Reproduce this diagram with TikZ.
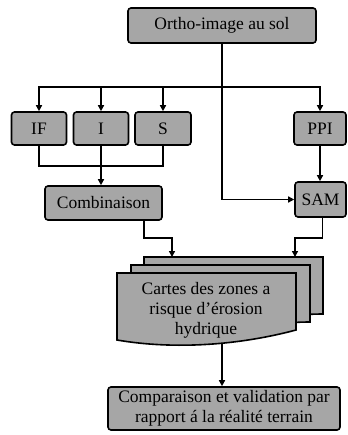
\documentclass[tikz,border=0pt]{standalone}
\usepackage{fontspec}
\setmainfont{Liberation Serif}
\usetikzlibrary{arrows.meta}
\definecolor{boxgray}{RGB}{166,166,166}
\begin{document}
\begin{tikzpicture}[x=1pt,y=-1pt,
	box/.style={draw=black,line width=1.6pt,fill=boxgray,rounded corners=3pt,inner sep=0pt,align=center,font=\fontsize{17.5}{20}\selectfont},
	page/.style={draw=black,line width=1.6pt,fill=boxgray},
	link/.style={line width=1.4pt,-{Triangle[length=6pt,width=6pt]}},
	line/.style={line width=1.4pt}]
	
	\useasboundingbox (0,0) rectangle (347,435);
	
	% boxes
	\node[box,minimum width=188pt,minimum height=35pt] (ortho) at (222,25.5) {Ortho-image au sol};
	\node[box,minimum width=55pt,minimum height=33pt] (IF) at (39,128.5) {IF};
	\node[box,minimum width=55pt,minimum height=33pt] (I) at (101,128.5) {I};
	\node[box,minimum width=56pt,minimum height=33pt] (S) at (163,128.5) {S};
	\node[box,minimum width=52pt,minimum height=33pt] (PPI) at (320,128.5) {PPI};
	\node[box,minimum width=117pt,minimum height=34pt] (comb) at (103.5,203) {Combinaison};
	\node[box,minimum width=51pt,minimum height=35pt] (sam) at (320.5,199.5) {SAM};
	\node[box,minimum width=232pt,minimum height=43pt] (comp) at (224,408.5) {Comparaison et validation par\\rapport á la réalité terrain};
	
	% stacked maps
	\draw[page](144,257)--(323,257)--(323,314) .. controls (267,314) and (202,334) .. (144,324)--cycle;
	\draw[page](131,265)--(310,265)--(310,322) .. controls (254,322) and (189,342) .. (131,332)--cycle;
	\draw[page](117,273)--(296,273)--(296,330) .. controls (240,345) and (175,350) .. (117,340)--cycle;
	\node[box,draw=none,fill=none] (cartes) at (206,310) {Cartes des zones a\\risque d’érosion\\hydrique};
	
	\coordinate (split) at (222,87);
	\coordinate (merge) at (101,166);
	\coordinate (in1) at (172,257);
	\coordinate (in2) at (295,257);
	\coordinate (docbot) at (222,343);
	
	% connectors
	\draw[line](ortho.south)--(split);
	\draw[link](split)-|(IF.north);
	\draw[link](split)-|(PPI.north);
	\draw[link](I.north|-split)--(I.north);
	\draw[link](S.north|-split)--(S.north);
	\draw[link](split)|-(sam.west);
	
	\draw[line](IF.south)|-(merge)-|(S.south);
	\draw[link](I.south)--(I.south|-comb.north);
	\draw[link](PPI.south)--(PPI.south|-sam.north);
	
	\draw[link]([xshift=40.5pt]comb.south)--++(0,17)-|(in1);
	\draw[link]([xshift=2pt]sam.south)--++(0,20)-|(in2);
	\draw[link](docbot)--(docbot|-comp.north);
	\end{tikzpicture}
\end{document}
